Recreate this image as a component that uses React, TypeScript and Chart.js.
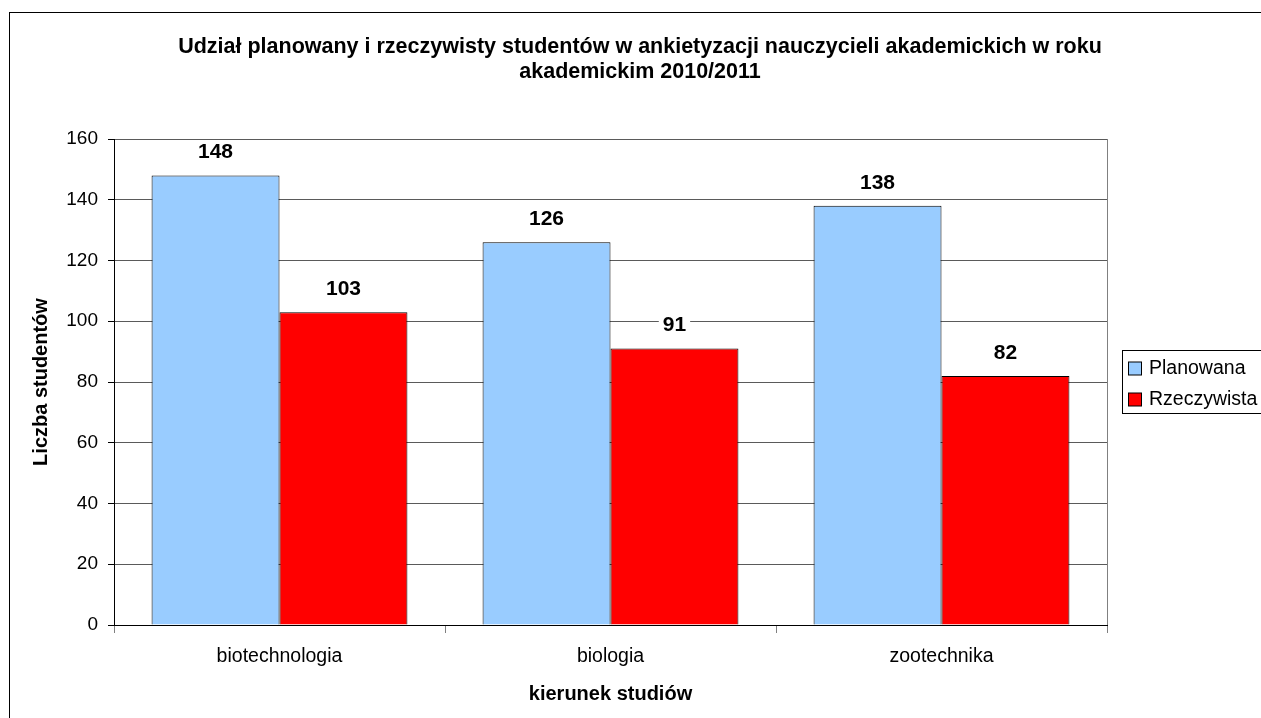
import React, { useEffect, useRef } from 'react';
import { Chart, registerables } from 'chart.js';

Chart.register(...registerables);

const categories = ['biotechnologia', 'biologia', 'zootechnika'];
const planowana = [148, 126, 138];
const rzeczywista = [103, 91, 82];
const seriesLabels = ['Planowana', 'Rzeczywista'];
const seriesColors = ['#99CCFF', '#FF0000'];
const yMin = 0;
const yMax = 160;
const yStep = 20;
const titleLines = [
  'Udział planowany i rzeczywisty studentów w ankietyzacji nauczycieli akademickich w roku',
  'akademickim 2010/2011',
];
const xTitle = 'kierunek studiów';
const yTitle = 'Liczba studentów';

const FONT = "'Liberation Sans', Arial, sans-serif";

const decorPlugin = {
  id: 'decor',
  afterDatasetsDraw(chart: any) {
    const ctx = chart.ctx;
    ctx.save();
    ctx.font = `bold 21px ${FONT}`;
    ctx.textAlign = 'center';
    ctx.textBaseline = 'middle';
    chart.data.datasets.forEach((ds: any, di: number) => {
      const meta = chart.getDatasetMeta(di);
      meta.data.forEach((el: any, i: number) => {
        const txt = String(ds.data[i]);
        const w = ctx.measureText(txt).width;
        const cy = el.y - 23;
        ctx.fillStyle = '#fff';
        ctx.fillRect(el.x - w / 2 - 4, cy - 11, w + 8, 22);
        ctx.fillStyle = '#000';
        ctx.fillText(txt, el.x, cy);
      });
    });
    ctx.restore();
  },
  afterDraw(chart: any) {
    const ctx = chart.ctx;
    const ca = chart.chartArea;
    ctx.save();
    // outer border
    ctx.strokeStyle = '#000';
    ctx.lineWidth = 1;
    ctx.strokeRect(9.5, 12.5, 1400, 1000);
    // plot right border
    ctx.strokeStyle = '#808080';
    ctx.beginPath();
    ctx.moveTo(Math.round(ca.right) + 0.5, ca.top);
    ctx.lineTo(Math.round(ca.right) + 0.5, ca.bottom);
    ctx.stroke();
    // title
    ctx.fillStyle = '#000';
    ctx.font = `bold 21.5px ${FONT}`;
    ctx.textAlign = 'center';
    ctx.textBaseline = 'middle';
    titleLines.forEach((t, i) => ctx.fillText(t, 640, 47 + i * 25));
    // axis titles
    ctx.font = `bold 20px ${FONT}`;
    ctx.fillText(xTitle, (ca.left + ca.right) / 2, 694);
    ctx.save();
    ctx.translate(41, (ca.top + ca.bottom) / 2);
    ctx.rotate(-Math.PI / 2);
    ctx.fillText(yTitle, 0, 0);
    ctx.restore();
    // legend
    const lx = 1122.5;
    const ly = 350.5;
    ctx.fillStyle = '#fff';
    ctx.fillRect(lx, ly, 200, 63);
    ctx.strokeStyle = '#000';
    ctx.strokeRect(lx, ly, 200, 63);
    ctx.font = `19.5px ${FONT}`;
    ctx.textAlign = 'left';
    chart.data.datasets.forEach((ds: any, i: number) => {
      const cy = 368.5 + i * 31;
      ctx.fillStyle = ds.backgroundColor;
      ctx.fillRect(1128.5, cy - 6.5, 13, 13);
      ctx.strokeStyle = '#000';
      ctx.strokeRect(1128.5, cy - 6.5, 13, 13);
      ctx.fillStyle = '#000';
      ctx.fillText(ds.label, 1149, cy);
    });
    ctx.restore();
  },
};

export default function App() {
  const ref = useRef<HTMLCanvasElement | null>(null);
  useEffect(() => {
    if (!ref.current) return;
    const chart = new Chart(ref.current, {
      type: 'bar',
      data: {
        labels: categories,
        datasets: [
          {
            label: seriesLabels[0],
            data: planowana,
            backgroundColor: seriesColors[0],
            borderColor: '#000',
            borderWidth: 1,
            categoryPercentage: 0.773,
            barPercentage: 1,
          },
          {
            label: seriesLabels[1],
            data: rzeczywista,
            backgroundColor: seriesColors[1],
            borderColor: '#000',
            borderWidth: 1,
            categoryPercentage: 0.773,
            barPercentage: 1,
          },
        ],
      },
      options: {
        responsive: false,
        animation: false,
        layout: { padding: { top: 139, left: 0, right: 154, bottom: 33 } },
        plugins: {
          legend: { display: false },
          title: { display: false },
          tooltip: { enabled: false },
        },
        scales: {
          x: {
            offset: true,
            grid: {
              offset: true,
              drawOnChartArea: false,
              tickLength: 8,
              tickColor: '#808080',
            },
            border: { color: '#000', width: 1 },
            ticks: {
              color: '#000',
              font: { family: FONT, size: 19.5 },
              padding: 12,
              maxRotation: 0,
            },
            afterFit: (s: any) => {
              s.height = 60;
            },
          },
          y: {
            min: yMin,
            max: yMax,
            ticks: {
              stepSize: yStep,
              color: '#000',
              font: { family: FONT, size: 19 },
              padding: 10,
            },
            grid: { color: '#5a5a5a', tickColor: '#000', tickLength: 6 },
            border: { color: '#000', width: 1 },
            afterFit: (s: any) => {
              s.width = 114;
            },
          },
        },
      },
      plugins: [decorPlugin],
    });
    return () => chart.destroy();
  }, []);
  return (
    <div style={{ position: 'fixed', left: 0, top: 0, width: 1261, height: 718, background: '#fff' }}>
      <canvas ref={ref} width={1261} height={718} style={{ width: 1261, height: 718, display: 'block' }} />
    </div>
  );
}
